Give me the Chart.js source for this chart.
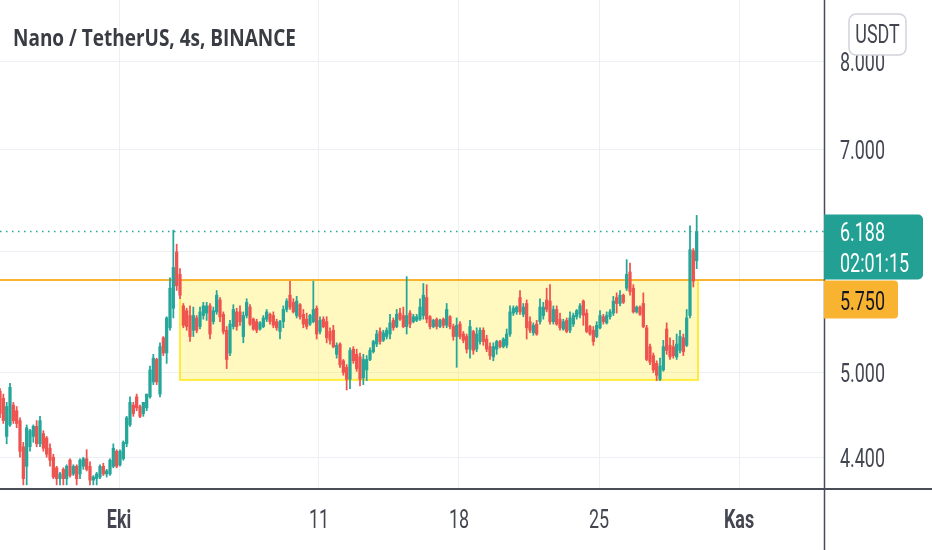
<!DOCTYPE html>
<html>
<head>
<meta charset="utf-8">
<script src="https://cdn.jsdelivr.net/npm/chart.js@4.4.0/dist/chart.umd.min.js"></script>
<style>
  html, body { margin: 0; padding: 0; background: #fff; }
  #wrap { width: 932px; height: 550px; position: relative; }
</style>
</head>
<body>
<div id="wrap"><canvas id="chart"></canvas></div>
<script>
// ---------------- DATA (4h candles, NANO/USDT) ----------------
const firstCandleDay = -5.95;   // days from 1 Oct
const candleStep = 1 / 6;       // 4 hours

const opens = [
  4.86,4.81,4.54,4.62,4.76,4.72,4.65,4.47,4.34,4.47,
  4.54,4.61,4.49,4.56,4.53,4.46,4.40,4.33,4.26,4.32,
  4.26,4.38,4.29,4.34,4.29,4.34,4.39,4.34,4.25,4.26,
  4.27,4.34,4.29,4.29,4.34,4.44,4.35,4.39,4.49,4.62,
  4.76,4.82,4.75,4.70,4.74,4.82,4.93,5.10,4.84,5.27,
  5.15,5.35,5.51,6.00,5.80,5.53,5.49,5.45,5.33,5.43,
  5.36,5.45,5.47,5.53,5.40,5.48,5.58,5.46,5.33,5.15,
  5.36,5.48,5.48,5.28,5.45,5.52,5.42,5.40,5.34,5.36,
  5.42,5.46,5.45,5.40,5.32,5.40,5.50,5.62,5.56,5.45,
  5.54,5.46,5.42,5.38,5.40,5.51,5.32,5.42,5.40,5.32,
  5.33,5.14,5.22,5.09,5.04,4.95,5.18,5.14,5.12,4.96,
  5.02,5.10,5.16,5.22,5.32,5.25,5.28,5.30,5.41,5.36,
  5.47,5.45,5.36,5.47,5.40,5.41,5.42,5.45,5.60,5.44,
  5.36,5.42,5.36,5.42,5.37,5.44,5.36,5.28,5.38,5.30,
  5.28,5.18,5.32,5.18,5.24,5.33,5.26,5.20,5.12,5.18,
  5.24,5.20,5.21,5.30,5.47,5.48,5.60,5.46,5.55,5.40,
  5.31,5.38,5.40,5.45,5.58,5.57,5.40,5.50,5.42,5.34,
  5.41,5.33,5.38,5.44,5.46,5.57,5.47,5.36,5.33,5.28,
  5.35,5.44,5.39,5.44,5.47,5.60,5.55,5.62,5.68,5.82,
  5.68,5.48,5.52,5.55,5.35,5.20,5.13,5.07,4.95,5.02,
  5.34,5.21,5.20,5.12,5.17,5.27,5.21,5.45,6.01,5.92
];
const highs = [
  4.88,4.84,4.78,4.92,4.78,4.75,4.67,4.50,4.62,4.59,
  4.62,4.65,4.68,4.58,4.54,4.49,4.42,4.34,4.30,4.33,
  4.35,4.39,4.35,4.35,4.39,4.40,4.45,4.37,4.28,4.30,
  4.35,4.36,4.32,4.39,4.49,4.45,4.45,4.51,4.68,4.82,
  4.78,4.84,4.76,4.78,4.84,5.05,5.14,5.11,5.23,5.28,
  5.44,5.77,6.20,6.07,5.85,5.55,5.51,5.53,5.52,5.45,
  5.52,5.56,5.56,5.55,5.52,5.66,5.60,5.48,5.36,5.41,
  5.54,5.51,5.53,5.48,5.59,5.54,5.43,5.42,5.40,5.45,
  5.50,5.47,5.48,5.42,5.41,5.53,5.59,5.74,5.59,5.61,
  5.55,5.50,5.47,5.46,5.74,5.53,5.44,5.44,5.44,5.35,
  5.37,5.23,5.23,5.10,5.06,5.19,5.20,5.18,5.15,5.14,
  5.13,5.19,5.25,5.33,5.35,5.33,5.35,5.46,5.43,5.50,
  5.51,5.52,5.78,5.49,5.46,5.46,5.59,5.72,5.71,5.45,
  5.42,5.43,5.42,5.43,5.55,5.45,5.38,5.43,5.40,5.32,
  5.30,5.41,5.33,5.35,5.35,5.35,5.29,5.23,5.23,5.25,
  5.25,5.27,5.34,5.53,5.53,5.53,5.66,5.55,5.58,5.44,
  5.39,5.41,5.59,5.56,5.68,5.71,5.53,5.53,5.47,5.42,
  5.43,5.48,5.47,5.50,5.55,5.58,5.50,5.37,5.36,5.40,
  5.49,5.46,5.48,5.50,5.61,5.64,5.66,5.63,5.93,5.90,
  5.71,5.53,5.53,5.64,5.37,5.22,5.15,5.09,5.11,5.25,
  5.39,5.27,5.25,5.30,5.33,5.30,5.50,6.24,6.03,6.34
];
const lows = [
  4.67,4.63,4.49,4.61,4.63,4.60,4.40,4.22,4.22,4.44,
  4.50,4.47,4.47,4.44,4.40,4.34,4.26,4.22,4.22,4.22,
  4.22,4.27,4.28,4.22,4.26,4.32,4.31,4.22,4.22,4.22,
  4.26,4.28,4.27,4.28,4.33,4.33,4.34,4.38,4.47,4.61,
  4.68,4.72,4.67,4.68,4.72,4.81,4.91,4.91,4.82,5.13,
  5.07,5.33,5.43,5.66,5.59,5.35,5.33,5.24,5.28,5.31,
  5.34,5.42,5.41,5.26,5.38,5.46,5.40,5.30,5.03,5.13,
  5.34,5.33,5.37,5.23,5.43,5.37,5.33,5.31,5.33,5.35,
  5.40,5.38,5.35,5.33,5.26,5.35,5.48,5.50,5.47,5.43,
  5.42,5.35,5.34,5.37,5.39,5.26,5.30,5.35,5.23,5.22,
  5.19,5.11,5.04,4.98,4.87,4.88,5.07,5.01,4.90,4.91,
  4.94,5.09,5.15,5.20,5.22,5.24,5.26,5.26,5.33,5.35,
  5.41,5.35,5.30,5.35,5.39,5.40,5.41,5.42,5.39,5.34,
  5.35,5.34,5.35,5.35,5.35,5.34,5.25,5.04,5.26,5.23,
  5.15,5.11,5.14,5.16,5.22,5.21,5.16,5.10,5.09,5.14,
  5.19,5.19,5.19,5.28,5.45,5.46,5.46,5.44,5.26,5.31,
  5.29,5.29,5.38,5.42,5.48,5.38,5.38,5.37,5.33,5.33,
  5.31,5.31,5.36,5.42,5.43,5.37,5.31,5.29,5.21,5.27,
  5.34,5.38,5.38,5.42,5.45,5.47,5.53,5.55,5.66,5.62,
  5.47,5.47,5.45,5.35,5.09,5.06,5.00,4.94,4.94,5.01,
  5.14,5.10,5.11,5.10,5.15,5.13,5.20,5.43,5.69,5.85
];
const closes = [
  4.70,4.65,4.75,4.89,4.65,4.63,4.44,4.26,4.60,4.58,
  4.61,4.49,4.65,4.46,4.42,4.38,4.27,4.26,4.29,4.26,
  4.34,4.28,4.34,4.26,4.38,4.39,4.32,4.25,4.27,4.29,
  4.34,4.29,4.31,4.38,4.46,4.34,4.44,4.50,4.67,4.78,
  4.70,4.74,4.68,4.78,4.84,5.02,5.11,4.93,5.20,5.15,
  5.43,5.68,5.86,5.70,5.62,5.37,5.36,5.28,5.45,5.33,
  5.48,5.53,5.53,5.30,5.49,5.62,5.44,5.32,5.10,5.38,
  5.50,5.36,5.40,5.45,5.56,5.38,5.34,5.33,5.39,5.43,
  5.48,5.40,5.37,5.35,5.40,5.50,5.57,5.52,5.48,5.57,
  5.44,5.38,5.36,5.45,5.50,5.30,5.41,5.36,5.27,5.25,
  5.20,5.21,5.06,5.00,4.95,5.17,5.09,5.03,4.95,5.10,
  5.10,5.17,5.24,5.30,5.24,5.31,5.33,5.39,5.35,5.46,
  5.42,5.36,5.45,5.38,5.44,5.44,5.52,5.62,5.42,5.36,
  5.41,5.36,5.41,5.37,5.50,5.36,5.28,5.37,5.28,5.25,
  5.18,5.36,5.17,5.30,5.33,5.24,5.18,5.13,5.20,5.24,
  5.20,5.26,5.30,5.48,5.51,5.52,5.48,5.52,5.35,5.33,
  5.37,5.30,5.52,5.52,5.50,5.40,5.50,5.38,5.35,5.40,
  5.32,5.43,5.45,5.49,5.53,5.45,5.32,5.30,5.24,5.37,
  5.45,5.40,5.45,5.48,5.57,5.55,5.62,5.56,5.80,5.65,
  5.48,5.52,5.46,5.36,5.10,5.08,5.02,4.98,5.05,5.20,
  5.17,5.12,5.13,5.22,5.28,5.16,5.43,6.02,5.74,6.188
];

// axis ticks
const dayTicks = [0, 10, 17, 24, 31];
const dayLabels = ['Eki', '11', '18', '25', 'Kas'];
const monthLabels = ['Eki', 'Kas'];
const priceTicks = [4.4, 5, 6, 7, 8];
const priceLabels = ['4.400', '5.000', '', '7.000', '8.000'];

// drawings
const rangeBoxDays = [3.05, 28.95];
const rangeBoxPrices = [4.945, 5.75];
const levelPrice = 5.75;
const levelLabel = '5.750';
const lastPrice = 6.188;
const lastLabel = '6.188';
const countdown = '02:01:15';
const title = 'Nano / TetherUS, 4s, BINANCE';
const currency = 'USDT';

// ---------------- STYLE ----------------
const green = '#26a69a';
const red = '#ef5350';
const gridColor = '#eceff3';
const textColor = '#434651';
const lineColor = '#4a4d57';
const orange = '#f8b430';
const yellow = '#ffeb3b';

const candleX = opens.map((o, i) => firstCandleDay + i * candleStep);
const candleColors = closes.map((c, i) => c >= opens[i] ? green : red);

// text with horizontal squeeze (reference is narrow)
function squeezed(ctx, s, x, y, font, color, sx, align) {
    ctx.save();
    ctx.font = font;
    ctx.fillStyle = color;
    ctx.textBaseline = 'alphabetic';
    ctx.textAlign = 'left';
    let w = ctx.measureText(s).width * sx;
    let left = align === 'center' ? x - w / 2 : (align === 'right' ? x - w : x);
    ctx.translate(left, y);
    ctx.scale(sx, 1);
    ctx.fillText(s, 0, 0);
    ctx.restore();
}

function roundRect(ctx, x, y, w, h, r) {
    ctx.beginPath();
    ctx.roundRect(x, y, w, h, r);
}

// -------- DRAWINGS UNDER CANDLES --------
const underlay = {
    id: 'underlay',
    beforeDatasetsDraw(chart) {
        const { ctx, chartArea: a, scales: { x, y } } = chart;
        ctx.save();
        ctx.beginPath();
        ctx.rect(a.left, a.top, a.right - a.left, a.bottom - a.top);
        ctx.clip();

        // yellow range box
        let bx1 = x.getPixelForValue(rangeBoxDays[0]);
        let bx2 = x.getPixelForValue(rangeBoxDays[1]);
        let by1 = y.getPixelForValue(rangeBoxPrices[1]);
        let by2 = y.getPixelForValue(rangeBoxPrices[0]);
        ctx.fillStyle = 'rgba(255, 235, 59, 0.32)';
        ctx.fillRect(bx1, by1, bx2 - bx1, by2 - by1);
        ctx.strokeStyle = yellow;
        ctx.lineWidth = 2;
        ctx.strokeRect(bx1, by1, bx2 - bx1, by2 - by1);

        // horizontal level
        let ly = y.getPixelForValue(levelPrice);
        ctx.strokeStyle = orange;
        ctx.lineWidth = 2;
        ctx.beginPath();
        ctx.moveTo(a.left, ly);
        ctx.lineTo(a.right, ly);
        ctx.stroke();

        // last price dotted line
        let py = Math.round(y.getPixelForValue(lastPrice)) + 0.5;
        ctx.strokeStyle = green;
        ctx.lineWidth = 1.5;
        ctx.setLineDash([1.5, 4.5]);
        ctx.beginPath();
        ctx.moveTo(a.left, py);
        ctx.lineTo(a.right, py);
        ctx.stroke();
        ctx.restore();
    }
};

// -------- AXES, LABELS, BADGES --------
const overlay = {
    id: 'overlay',
    afterDraw(chart) {
        const { ctx, chartArea: a, scales: { x, y }, width, height } = chart;
        const labelFont = '26px Roboto';
        ctx.save();
        ctx.font = labelFont;
        const sx = 45 / ctx.measureText('7.000').width;
        ctx.restore();

        // axis lines
        ctx.save();
        ctx.strokeStyle = lineColor;
        ctx.lineWidth = 2;
        ctx.beginPath();
        ctx.moveTo(0, a.bottom + 1);
        ctx.lineTo(width, a.bottom + 1);
        ctx.stroke();
        ctx.lineWidth = 1.5;
        ctx.beginPath();
        ctx.moveTo(a.right + 0.5, 0);
        ctx.lineTo(a.right + 0.5, height);
        ctx.stroke();
        ctx.restore();

        // price labels
        priceTicks.forEach((v, i) => {
            if (!priceLabels[i]) return;
            squeezed(ctx, priceLabels[i], a.right + 16, y.getPixelForValue(v) + 9.5, labelFont, textColor, sx, 'left');
        });

        // date labels
        dayTicks.forEach((d, i) => {
            let bold = monthLabels.includes(dayLabels[i]);
            squeezed(ctx, dayLabels[i], x.getPixelForValue(d), a.bottom + 40,
                (bold ? 'bold ' : '') + labelFont, textColor, sx, 'center');
        });

        // last price badge
        let py = y.getPixelForValue(lastPrice);
        let ly = y.getPixelForValue(levelPrice);
        ctx.save();
        ctx.fillStyle = '#22a093';
        roundRect(ctx, a.right, py - 17, 99, ly - (py - 17) - 0.5, [0, 5, 5, 0]);
        ctx.fill();
        ctx.restore();
        squeezed(ctx, lastLabel, a.right + 16, py + 10, labelFont, '#ffffff', sx, 'left');
        squeezed(ctx, countdown, a.right + 16, py + 41, labelFont, '#ffffff', sx, 'left');

        // level badge
        ctx.save();
        ctx.fillStyle = orange;
        roundRect(ctx, a.right, ly + 0.5, 74, 38, [0, 4, 4, 0]);
        ctx.fill();
        ctx.restore();
        squeezed(ctx, levelLabel, a.right + 16, ly + 29.5, labelFont, '#131722', sx, 'left');

        // currency button
        ctx.save();
        ctx.fillStyle = '#ffffff';
        ctx.strokeStyle = '#d1d4dc';
        ctx.lineWidth = 1.5;
        roundRect(ctx, 849, 14, 57, 41, 7);
        ctx.fill();
        ctx.stroke();
        ctx.restore();
        squeezed(ctx, currency, 877.5, 43, labelFont, textColor, sx, 'center');

        // title
        const titleFont = 'bold 24px "Open Sans"';
        ctx.save();
        ctx.font = titleFont;
        const tsx = 283 / ctx.measureText(title).width;
        ctx.restore();
        squeezed(ctx, title, 13, 46, titleFont, '#3a3c44', tsx, 'left');
    }
};

const chart = new Chart(document.getElementById('chart'), {
    type: 'bar',
    data: {
        datasets: [
            {
                label: 'bodies',
                data: candleX.map((d, i) => ({ x: d, y: [opens[i], closes[i]] })),
                backgroundColor: candleColors,
                borderWidth: 0,
                barThickness: 2.6,
                grouped: false
            },
            {
                label: 'wicks',
                data: candleX.map((d, i) => ({ x: d, y: [lows[i], highs[i]] })),
                backgroundColor: candleColors,
                borderWidth: 0,
                barThickness: 1.1,
                grouped: false
            }
        ]
    },
    options: {
        responsive: true,
        maintainAspectRatio: false,
        animation: false,
        layout: { padding: 0 },
        plugins: {
            legend: { display: false },
            tooltip: { enabled: false }
        },
        scales: {
            x: {
                type: 'linear',
                min: -5.95,
                max: 35.25,
                offset: false,
                afterBuildTicks: scale => { scale.ticks = dayTicks.map(v => ({ value: v })); },
                afterFit: scale => { scale.height = 62; },
                ticks: { display: false },
                grid: { color: gridColor, drawTicks: false, offset: false },
                border: { display: false }
            },
            y: {
                type: 'logarithmic',
                position: 'right',
                min: 4.2255,
                max: 8.778,
                afterBuildTicks: scale => { scale.ticks = priceTicks.map(v => ({ value: v })); },
                afterFit: scale => { scale.width = 108; },
                ticks: { display: false },
                grid: { color: gridColor, drawTicks: false },
                border: { display: false }
            }
        }
    },
    plugins: [underlay, overlay]
});
</script>
</body>
</html>
